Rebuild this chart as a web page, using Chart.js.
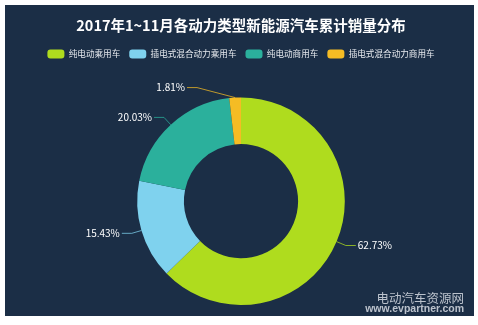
<!DOCTYPE html>
<html>
<head>
<meta charset="utf-8">
<script src="https://cdn.jsdelivr.net/npm/chart.js@4/dist/chart.umd.min.js"></script>
<style>
  html, body { margin: 0; padding: 0; background: #fff; }
  #panel {
    position: absolute; left: 5px; top: 5px; width: 469px; height: 311px;
    background: #1b2e46;
  }
  #panel canvas { position: absolute; left: 0; top: 0; }
  .mark { position: absolute; color: rgba(215, 220, 228, 0.85); font-family: "Noto Sans CJK SC", sans-serif; white-space: nowrap; }
  #mark1 { right: 10px; top: 283px; font-size: 12.5px; }
  #mark2 { right: 10px; top: 297px; font-size: 10.5px; font-weight: bold; font-family: "Liberation Sans", Arial, sans-serif; }
</style>
</head>
<body>
<div id="panel">
  <canvas id="chShare" width="469" height="311"></canvas>
  <div class="mark" id="mark1">电动汽车资源网</div>
  <div class="mark" id="mark2">www.evpartner.com</div>
</div>
<script>
const categories = ["纯电动乘用车", "插电式混合动力乘用车", "纯电动商用车", "插电式混合动力商用车"];
const shares = [62.73, 15.43, 20.03, 1.81];
const sliceColors = ["#afdc1e", "#7fd2ee", "#2bb09c", "#f5bc24"];

const FONT = "'Noto Sans CJK SC', 'Microsoft YaHei', sans-serif";

// extra room between the legend and the ring
const legendGap = {
  id: "legendGap",
  beforeInit(chart) {
    const fit = chart.legend.fit;
    chart.legend.fit = function () {
      fit.call(this);
      this.height += 29;
    };
  }
};

// leader lines + percentage labels outside the ring
const outerLabels = {
  id: "outerLabels",
  afterDatasetsDraw(chart, args, opts) {
    const { ctx } = chart;
    const meta = chart.getDatasetMeta(0);
    ctx.save();
    ctx.font = `${opts.fontSize}px ${FONT}`;
    ctx.textBaseline = "middle";
    meta.data.forEach((arc, i) => {
      const { x, y, startAngle, endAngle, outerRadius } =
        arc.getProps(["x", "y", "startAngle", "endAngle", "outerRadius"], true);
      const mid = (startAngle + endAngle) / 2;
      const cos = Math.cos(mid), sin = Math.sin(mid);
      const side = cos >= 0 ? 1 : -1;
      const x0 = x + cos * outerRadius, y0 = y + sin * outerRadius;
      let ex = x + cos * (outerRadius + opts.len1);
      const ey = y + sin * (outerRadius + opts.len1);
      if (Math.abs(ex - x) < opts.minDx) ex = x + side * opts.minDx;
      const tx = ex + side * opts.len2;

      ctx.strokeStyle = sliceColors[i];
      ctx.globalAlpha = 0.75;
      ctx.lineWidth = 1;
      ctx.beginPath();
      ctx.moveTo(x0, y0);
      ctx.lineTo(ex, ey);
      ctx.lineTo(tx, ey);
      ctx.stroke();

      ctx.globalAlpha = 1;
      ctx.fillStyle = "#ffffff";
      ctx.textAlign = side > 0 ? "left" : "right";
      ctx.fillText(shares[i].toFixed(2) + "%", tx + side * 2, ey);
    });
    ctx.restore();
  }
};

new Chart(document.getElementById("chShare").getContext("2d"), {
  type: "doughnut",
  data: {
    labels: categories,
    datasets: [{
      data: shares,
      backgroundColor: sliceColors,
      borderWidth: 0,
      hoverOffset: 0
    }]
  },
  options: {
    responsive: false,
    animation: false,
    cutout: "55%",
    layout: { padding: { left: 3, right: 0, top: 0, bottom: 11 } },
    plugins: {
      title: {
        display: true,
        text: "2017年1~11月各动力类型新能源汽车累计销量分布",
        color: "#ffffff",
        font: { family: FONT, size: 14.5, weight: "bold" },
        padding: { top: 12, bottom: 6 }
      },
      legend: {
        position: "top",
        labels: {
          color: "#e6e9ee",
          font: { family: FONT, size: 8.6 },
          boxWidth: 17,
          boxHeight: 9,
          useBorderRadius: true,
          borderRadius: 3,
          padding: 9
        }
      },
      tooltip: { enabled: false },
      outerLabels: { fontSize: 10, len1: 10, len2: 10, minDx: 44 }
    }
  },
  plugins: [legendGap, outerLabels]
});
</script>
</body>
</html>
